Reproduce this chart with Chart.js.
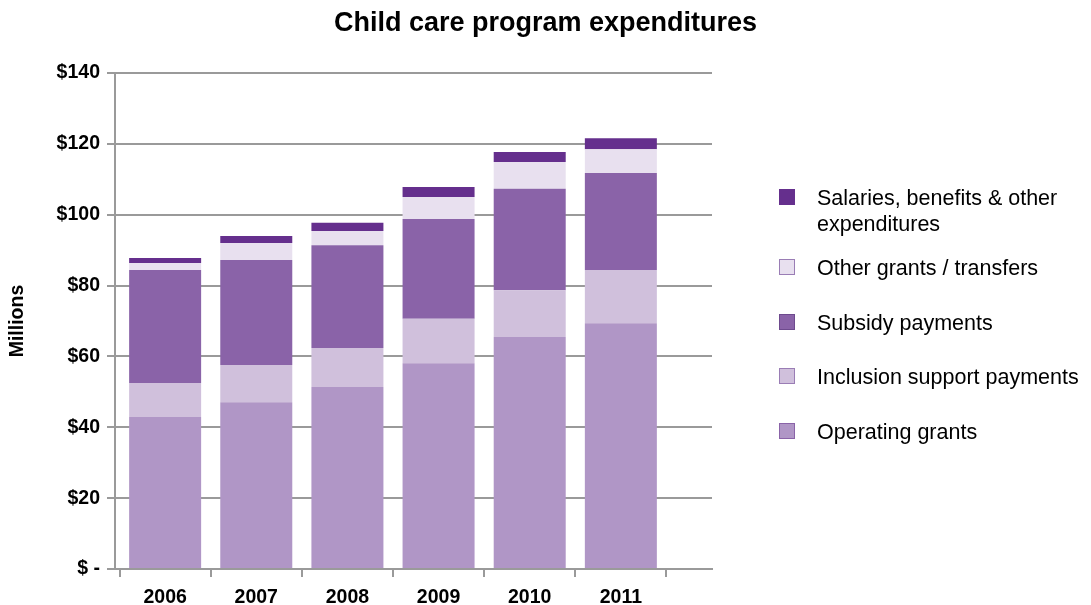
<!DOCTYPE html>
<html>
<head>
<meta charset="utf-8">
<script src="https://cdn.jsdelivr.net/npm/chart.js@4/dist/chart.umd.min.js"></script>
<style>
  html, body { margin: 0; padding: 0; background: #fff; }
  #wrap { position: relative; width: 1091px; height: 605px; }
  #legend { position: absolute; left: 0; top: 0; font-family: "Liberation Sans", Arial, sans-serif; font-size: 21.5px; color: #000; }
  .item { position: absolute; left: 779px; display: flex; align-items: flex-start; white-space: nowrap; }
  .box { width: 16px; height: 16px; box-sizing: border-box; border: 1px solid; margin-top: 4px; }
  .txt { margin-left: 22px; line-height: 26px; }
</style>
</head>
<body>
<div id="wrap">
  <canvas id="chart" width="1091" height="605"></canvas>
  <div id="legend"></div>
</div>
<script>
// data ($ millions)
const categories = [2006, 2007, 2008, 2009, 2010, 2011];
const operatingGrants   = [42.9, 47.1, 51.4, 58.1, 65.5, 69.4];
const inclusionSupport  = [9.6, 10.5, 11.0, 12.5, 13.2, 15.0];
const subsidyPayments   = [31.9, 29.6, 29.0, 28.2, 28.6, 27.4];
const otherGrants       = [2.0, 4.8, 4.0, 6.2, 7.6, 6.7];
const salariesOther     = [1.4, 2.0, 2.3, 2.8, 2.8, 3.1];
const yTicks = [0, 20, 40, 60, 80, 100, 120, 140];

const font = "'Liberation Sans', Arial, sans-serif";
const gridGray = '#9a9a9a';

const datasets = [
  { label: 'Operating grants', data: operatingGrants, backgroundColor: '#b096c6', edge: '#8a63a8' },
  { label: 'Inclusion support payments', data: inclusionSupport, backgroundColor: '#d0c0dc', edge: '#9a7db5' },
  { label: 'Subsidy payments', data: subsidyPayments, backgroundColor: '#8a63a8', edge: '#6e4a8e' },
  { label: 'Other grants / transfers', data: otherGrants, backgroundColor: '#e8e0ef', edge: '#9a7db5' },
  { label: ['Salaries, benefits & other', 'expenditures'], data: salariesOther, backgroundColor: '#652f8d', edge: '#652f8d' }
];

const chart = new Chart(document.getElementById('chart'), {
  type: 'bar',
  data: { labels: categories, datasets: datasets.map(d => ({
    label: Array.isArray(d.label) ? d.label.join(' ') : d.label,
    data: d.data,
    backgroundColor: d.backgroundColor,
    borderWidth: 0,
    barPercentage: 0.79,
    categoryPercentage: 1
  })) },
  options: {
    responsive: false,
    animation: false,
    layout: { padding: 0 },
    plugins: {
      legend: { display: false },
      tooltip: { enabled: false },
      title: {
        display: true,
        text: 'Child care program expenditures',
        color: '#000',
        font: { family: font, size: 27, weight: 'bold' },
        padding: { top: 7, bottom: 33.6 }
      }
    },
    scales: {
      x: {
        type: 'linear',
        stacked: true,
        offset: false,
        min: 2005.45,
        max: 2012.0,
        afterBuildTicks: s => { s.ticks = categories.map(v => ({ value: v })); },
        afterFit: s => { s.height = 36; },
        ticks: {
          color: '#000',
          padding: 9,
          font: { family: font, size: 19.5, weight: 'bold' },
          callback: v => String(v)
        },
        grid: { offset: true, drawOnChartArea: false, drawTicks: true, tickLength: 8, color: gridGray, lineWidth: 2 },
        border: { color: gridGray, width: 2 }
      },
      y: {
        stacked: true,
        min: 0,
        max: 140,
        afterBuildTicks: s => { s.ticks = yTicks.map(v => ({ value: v })); },
        afterFit: s => { s.width = 115; },
        ticks: {
          color: '#000',
          padding: 7,
          font: { family: font, size: 19.5, weight: 'bold' },
          callback: v => v === 0 ? '$ -' : '$' + v
        },
        title: {
          display: true,
          text: 'Millions',
          color: '#000',
          font: { family: font, size: 19.5, weight: 'bold' },
          padding: { top: 6, bottom: 4 }
        },
        grid: { color: gridGray, lineWidth: 2, tickLength: 8 },
        border: { color: gridGray, width: 2 }
      },
      // keeps the right-hand space for the legend so the title stays centred on the page
      spacer: {
        type: 'linear',
        position: 'right',
        afterFit: s => { s.width = 1091 - 712; },
        ticks: { display: false },
        grid: { display: false },
        border: { display: false }
      }
    }
  }
});

// legend, top item is the top of the stack
const legendTops = [185, 255, 310, 364, 419];
const legendEl = document.getElementById('legend');
datasets.slice().reverse().forEach((d, i) => {
  const item = document.createElement('div');
  item.className = 'item';
  item.style.top = legendTops[i] + 'px';
  const box = document.createElement('div');
  box.className = 'box';
  box.style.background = d.backgroundColor;
  box.style.borderColor = d.edge;
  const txt = document.createElement('div');
  txt.className = 'txt';
  txt.innerHTML = (Array.isArray(d.label) ? d.label : [d.label]).map(t => t.replace('&', '&amp;')).join('<br>');
  item.appendChild(box);
  item.appendChild(txt);
  legendEl.appendChild(item);
});
</script>
</body>
</html>
